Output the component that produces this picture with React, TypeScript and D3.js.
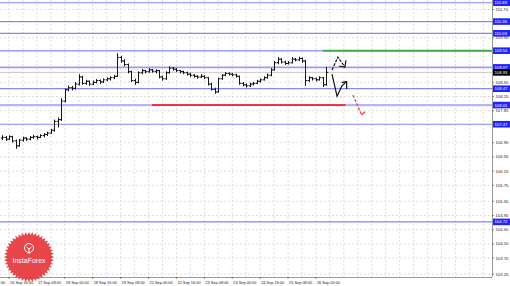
import React from "react";
import * as d3 from "d3";

const timeLabels = [
  "16 Sep 00:00", "16 Sep 16:00", "17 Sep 08:00", "18 Sep 00:00", "18 Sep 16:00",
  "19 Sep 08:00", "22 Sep 00:00", "22 Sep 16:00", "23 Sep 08:00", "24 Sep 00:00",
  "24 Sep 16:00", "25 Sep 08:00", "26 Sep 00:00",
];
const tickValues = [110.7, 109.9, 108.65, 108.25, 107.85, 106.95, 106.55, 106.15, 105.75, 105.3, 104.9, 104.5, 104.1, 103.7, 103.25];
const levels = [110.89, 110.36, 110.03, 109.54, 109.07, 108.47, 108.01, 107.47, 104.72];
const currentPrice = 108.93;
const resistanceLevel = 109.54;
const supportLevel = 108.01;
const resistanceStartHour = 196;
const supportStartHour = 98;
const supportEndHour = 209;
const barStartHour = 12;
const barStepHours = 2;
const labelStepHours = 16;
const gridStepHours = 8;

// [open, high, low, close], 2-hour bars
const bars: [number, number, number, number][] = [
  [107.08, 107.16, 107.02, 107.1], [107.1, 107.14, 107.0, 107.05], [107.05, 107.16, 107.03, 107.12],
  [107.12, 107.14, 106.96, 107.0], [107.0, 107.04, 106.78, 106.86], [106.86, 107.06, 106.84, 107.02],
  [107.02, 107.12, 106.98, 107.08], [107.08, 107.1, 107.0, 107.05], [107.05, 107.14, 107.02, 107.1],
  [107.1, 107.17, 107.06, 107.12], [107.12, 107.15, 107.04, 107.1], [107.1, 107.19, 107.08, 107.15],
  [107.15, 107.22, 107.1, 107.18], [107.18, 107.26, 107.14, 107.22], [107.22, 107.34, 107.2, 107.3],
  [107.3, 107.6, 107.26, 107.55], [107.55, 107.66, 107.38, 107.6], [107.6, 108.2, 107.56, 108.12],
  [108.12, 108.48, 108.08, 108.44], [108.44, 108.56, 108.4, 108.5], [108.5, 108.55, 108.42, 108.48],
  [108.48, 108.66, 108.45, 108.6], [108.6, 108.88, 108.56, 108.8], [108.8, 108.83, 108.58, 108.62],
  [108.62, 108.72, 108.58, 108.68], [108.68, 108.7, 108.55, 108.6], [108.6, 108.7, 108.57, 108.65],
  [108.65, 108.74, 108.62, 108.7], [108.7, 108.73, 108.6, 108.66], [108.66, 108.76, 108.63, 108.72],
  [108.72, 108.79, 108.68, 108.75], [108.75, 108.82, 108.7, 108.78], [108.78, 108.86, 108.74, 108.82],
  [108.82, 109.47, 108.8, 109.35], [109.35, 109.4, 109.2, 109.25], [109.25, 109.3, 109.1, 109.15],
  [109.15, 109.18, 108.9, 108.95], [108.95, 108.98, 108.66, 108.7], [108.7, 108.75, 108.58, 108.65],
  [108.65, 108.96, 108.62, 108.92], [108.92, 109.03, 108.88, 108.98], [108.98, 109.0, 108.9, 108.95],
  [108.95, 109.05, 108.92, 109.0], [109.0, 109.03, 108.92, 108.96], [108.96, 109.02, 108.9, 108.98],
  [108.98, 109.0, 108.76, 108.8], [108.8, 108.84, 108.7, 108.75], [108.75, 108.96, 108.72, 108.92],
  [108.92, 109.1, 108.9, 109.05], [109.05, 109.08, 108.98, 109.02], [109.02, 109.05, 108.94, 108.98],
  [108.98, 109.0, 108.9, 108.95], [108.95, 108.98, 108.88, 108.92], [108.92, 108.95, 108.84, 108.88],
  [108.88, 108.92, 108.8, 108.85], [108.85, 108.88, 108.78, 108.82], [108.82, 108.85, 108.75, 108.8],
  [108.8, 108.88, 108.77, 108.82], [108.82, 108.85, 108.74, 108.78], [108.78, 108.8, 108.56, 108.6],
  [108.6, 108.64, 108.42, 108.45], [108.45, 108.5, 108.33, 108.38], [108.38, 108.78, 108.36, 108.75],
  [108.75, 108.88, 108.72, 108.85], [108.85, 108.94, 108.82, 108.9], [108.9, 108.93, 108.84, 108.88],
  [108.88, 108.91, 108.82, 108.86], [108.86, 108.89, 108.78, 108.82], [108.82, 108.84, 108.58, 108.62],
  [108.62, 108.66, 108.54, 108.58], [108.58, 108.62, 108.5, 108.55], [108.55, 108.64, 108.52, 108.6],
  [108.6, 108.66, 108.56, 108.62], [108.62, 108.72, 108.6, 108.68], [108.68, 108.76, 108.64, 108.72],
  [108.72, 108.82, 108.7, 108.78], [108.78, 108.9, 108.75, 108.85], [108.85, 109.05, 108.82, 109.0],
  [109.0, 109.25, 108.98, 109.2], [109.2, 109.36, 109.16, 109.3], [109.3, 109.33, 109.18, 109.22],
  [109.22, 109.26, 109.14, 109.18], [109.18, 109.25, 109.15, 109.2], [109.2, 109.36, 109.18, 109.3],
  [109.3, 109.34, 109.24, 109.28], [109.28, 109.37, 109.25, 109.32], [109.32, 109.35, 109.2, 109.25],
  [109.25, 109.28, 108.55, 108.7], [108.7, 108.82, 108.66, 108.78], [108.78, 108.8, 108.7, 108.75],
  [108.75, 108.78, 108.68, 108.72], [108.72, 108.82, 108.7, 108.78], [108.78, 108.8, 108.52, 108.58],
  [108.58, 109.08, 108.55, 108.93],
];

// forecast arrows as [hour, price]
const upperArrow: [number, number][] = [[201.2, 109.0], [204.6, 109.36], [208.6, 109.08]];
const upperArrowHead: [number, number][] = [[205.2, 109.11], [208.6, 109.08], [209.2, 109.27]];
const lowerArrow: [number, number][] = [[201.2, 108.88], [204.1, 108.26], [206.9, 108.55], [209.6, 108.67]];
const lowerArrowHead: [number, number][] = [[206.8, 108.64], [209.6, 108.67], [209.6, 108.46]];
const redArrow: [number, number][] = [[213.2, 108.29], [218.2, 107.73]];
const redArrowHead: [number, number][] = [[218.2, 107.73], [220.1, 107.82]];

const W = 510;
const H = 286;
const plotRight = 492;
const plotBottom = 277;

export default function App() {
  const x = d3.scaleLinear().domain([0, 16]).range([-18.9, -18.9 + 16 * 1.744]);
  const y = d3.scaleLinear().domain([106.95, 103.25]).range([142.7, 142.7 + 3.7 * 35.52]);
  const line = d3.line<[number, number]>().x((d) => x(d[0])).y((d) => y(d[1]));

  const gridHours: number[] = [];
  for (let h = gridStepHours; x(h) < plotRight; h += gridStepHours) gridHours.push(h);

  const levelStyle = (v: number) => {
    if (v === 108.01) return { stroke: "#b4b4ff", w: 2.2 };
    if (v === 109.07 || v === 109.54) return { stroke: "#9a9aff", w: 1.6 };
    if (v === 108.47) return { stroke: "#6a6aff", w: 1 };
    return { stroke: "#8484ff", w: 1.2 };
  };

  const starPts: [number, number][] = [];
  const spikes = 44;
  for (let i = 0; i < spikes * 2; i++) {
    starPts.push([(i / (spikes * 2)) * Math.PI * 2, i % 2 === 0 ? 25 : 22]);
  }
  const star = d3.lineRadial<[number, number]>().angle((d) => d[0]).radius((d) => d[1]).curve(d3.curveLinearClosed)(starPts);

  return (
    <div style={{ position: "absolute", left: 0, top: 0, width: W, height: H }}>
      <svg width={W} height={H} style={{ display: "block", background: "#fff" }} fontFamily="'Liberation Sans', Arial, sans-serif">
        <defs>
          <clipPath id="plot">
            <rect x={0} y={0} width={plotRight} height={plotBottom} />
          </clipPath>
        </defs>
        <g clipPath="url(#plot)">
          {tickValues.map((v) => (
            <line key={"hg" + v} x1={0} x2={plotRight} y1={y(v)} y2={y(v)} stroke="#cfcfcf" strokeWidth={0.7} strokeDasharray="2,2" />
          ))}
          {gridHours.map((h) => (
            <line key={"vg" + h} x1={x(h)} x2={x(h)} y1={0} y2={plotBottom} stroke="#cfcfcf" strokeWidth={0.7} strokeDasharray="2,2" />
          ))}
          <line x1={0} x2={plotRight} y1={y(currentPrice)} y2={y(currentPrice)} stroke="#c8c8c8" strokeWidth={1} />
          {levels.map((v) => {
            const s = levelStyle(v);
            return <line key={"lv" + v} x1={0} x2={plotRight} y1={y(v)} y2={y(v)} stroke={s.stroke} strokeWidth={s.w} />;
          })}
          <line x1={x(resistanceStartHour)} x2={plotRight} y1={y(resistanceLevel)} y2={y(resistanceLevel)} stroke="#3dae4a" strokeWidth={2} />
          <line x1={x(supportStartHour)} x2={x(supportEndHour)} y1={y(supportLevel)} y2={y(supportLevel)} stroke="#e8393c" strokeWidth={2} />
          {bars.map((b, i) => {
            const h = barStartHour + i * barStepHours;
            const cx = Math.round(x(h)) + 0.5;
            return (
              <g key={"b" + i} stroke="#161616" strokeWidth={1}>
                <line x1={cx} x2={cx} y1={y(b[1])} y2={y(b[2])} />
                <line x1={cx - 1.8} x2={cx} y1={y(b[0])} y2={y(b[0])} />
                <line x1={cx} x2={cx + 1.8} y1={y(b[3])} y2={y(b[3])} />
              </g>
            );
          })}
          <path d={line(upperArrow) || ""} fill="none" stroke="#111" strokeWidth={1.2} strokeDasharray="3,1.2" />
          <path d={line(upperArrowHead) || ""} fill="none" stroke="#111" strokeWidth={1.2} />
          <path d={line(lowerArrow) || ""} fill="none" stroke="#111" strokeWidth={1.2} />
          <path d={line(lowerArrowHead) || ""} fill="none" stroke="#111" strokeWidth={1.2} />
          <path d={line(redArrow) || ""} fill="none" stroke="#e8393c" strokeWidth={1.2} strokeDasharray="3,1.5" />
          <path d={line(redArrowHead) || ""} fill="none" stroke="#e8393c" strokeWidth={1.2} />
        </g>
        <line x1={plotRight + 0.5} x2={plotRight + 0.5} y1={0} y2={plotBottom} stroke="#9a9a9a" strokeWidth={1} />
        <line x1={0} x2={plotRight} y1={plotBottom + 0.5} y2={plotBottom + 0.5} stroke="#9a9a9a" strokeWidth={1} />
        {tickValues.map((v) => (
          <g key={"tl" + v}>
            <line x1={plotRight} x2={plotRight + 2} y1={y(v)} y2={y(v)} stroke="#444" strokeWidth={0.6} />
            <text x={plotRight + 3.5} y={y(v) + 1.5} fontSize={4.2} fill="#222">{v.toFixed(2)}</text>
          </g>
        ))}
        {levels.map((v) => (
          <g key={"ll" + v}>
            <rect x={plotRight + 1} y={y(v) - 3.3} width={W - plotRight} height={6.6} fill="#2323ff" />
            <text x={plotRight + 2.5} y={y(v) + 1.5} fontSize={4.2} fill="#fff">{v.toFixed(2)}</text>
          </g>
        ))}
        <rect x={plotRight + 1} y={y(currentPrice) - 3.3} width={W - plotRight} height={6.6} fill="#000" />
        <text x={plotRight + 2.5} y={y(currentPrice) + 1.5} fontSize={4.2} fill="#fff">{currentPrice.toFixed(2)}</text>
        {timeLabels.map((t, i) => {
          const h = i * labelStepHours;
          return (
            <g key={"t" + i}>
              <line x1={x(h)} x2={x(h)} y1={plotBottom} y2={plotBottom + 2} stroke="#444" strokeWidth={0.6} />
              <text x={x(h) + 1} y={283.5} fontSize={3.9} fill="#222">{t}</text>
            </g>
          );
        })}
        <g transform="translate(29,257)" opacity={0.92}>
          <path d={star || ""} fill="#e6373b" />
          <circle r={22} fill="#e6373b" />
          <g stroke="#fff" strokeWidth={1} fill="none">
            <circle cx={0} cy={-9} r={4.5} />
            <line x1={0} x2={0} y1={-9} y2={-3} />
            <path d="M-2.5,-10 L0,-8 L2.5,-10" />
          </g>
          <text x={0} y={6} fontSize={7} fill="#fff" textAnchor="middle">InstaForex</text>
        </g>
      </svg>
    </div>
  );
}
